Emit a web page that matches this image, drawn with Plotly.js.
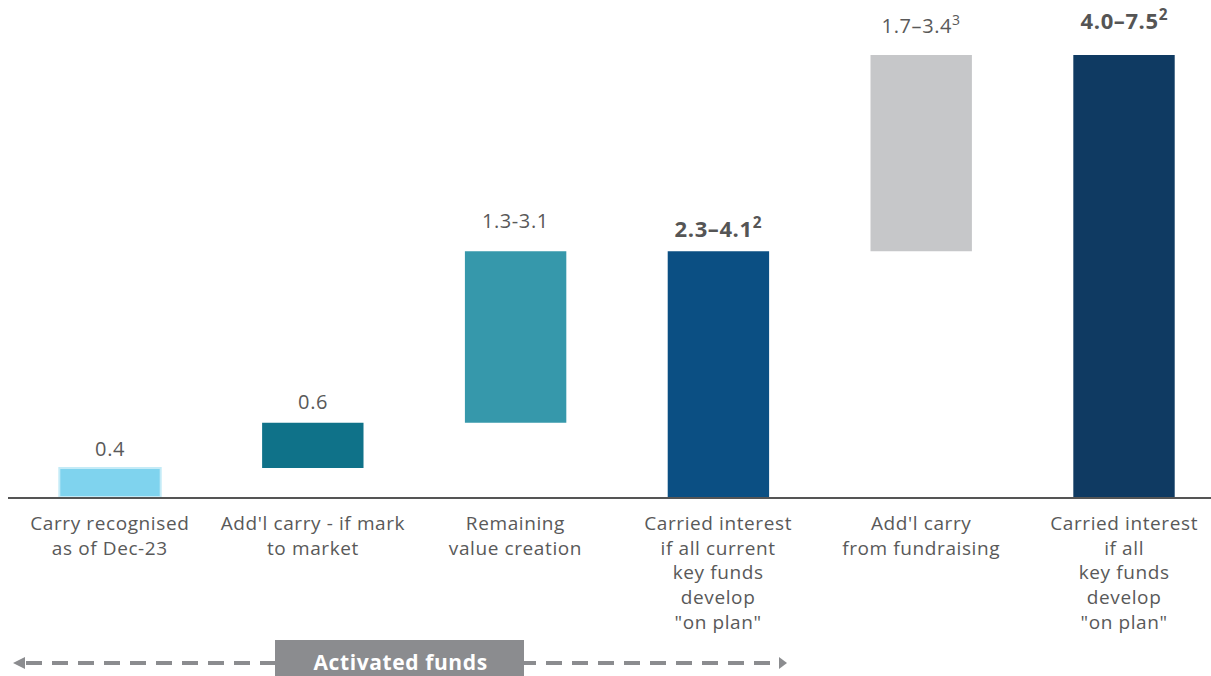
<!DOCTYPE html>
<html>
<head>
<meta charset="utf-8">
<script src="https://cdn.plot.ly/plotly-3.0.1.min.js"></script>
<style>
html,body{margin:0;padding:0;background:#fff;}
#chart{width:1211px;height:676px;}
#chart .annotation-text{letter-spacing:0.6px;}
</style>
</head>
<body>
<div id="chart"></div>
<script>
// ---- data ----
const categories = [
  "Carry recognised<br>as of Dec-23",
  "Add'l carry - if mark<br>to market",
  "Remaining<br>value creation",
  "Carried interest<br>if all current<br>key funds<br>develop<br>\"on plan\"",
  "Add'l carry<br>from fundraising",
  "Carried interest<br>if all<br>key funds<br>develop<br>\"on plan\""
];
const barBase = [0, 0.49, 1.26, 0, 4.17, 0];
const barTop  = [0.49, 1.26, 4.17, 4.17, 7.5, 7.5];
const valueLabels = ["0.4", "0.6", "1.3-3.1", "2.3–4.1<sup>2</sup>", "1.7–3.4<sup>3</sup>", "4.0–7.5<sup>2</sup>"];
const labelBold = [false, false, false, true, false, true];
const barColors = ["#7fd3ee", "#0f7289", "#3698ab", "#0b4f83", "#c6c7c9", "#0f3a62"];
const bracketLabel = "Activated funds";

// ---- styling ----
const FONT = "Open Sans, Lato, sans-serif";
const TXT = "#595959";
const labelShift = [4, 6, 15, 6, 14, 18];
const W = 1211, H = 676, ML = 8, MR = 0, MT = 0, MB = 179;
const PW = W - ML - MR, PH = H - MT - MB;
const px2x = p => (p - ML) / PW;
const py2y = p => (PH + MT - p) / PH;

const idx = categories.map((_, i) => i);

const trace = {
  type: "bar",
  x: idx,
  y: barTop.map((t, i) => t - barBase[i]),
  base: barBase,
  width: 0.5,
  marker: {
    color: barColors,
    line: { color: barColors.map((c, i) => i === 0 ? "#c4ebf7" : c), width: barColors.map((c, i) => i === 0 ? 2 : 0) }
  },
  hoverinfo: "skip"
};

const annotations = [];
idx.forEach(i => {
  annotations.push({
    x: i, y: barTop[i], xref: "x", yref: "y",
    text: labelBold[i] ? "<b>" + valueLabels[i] + "</b>" : valueLabels[i],
    showarrow: false, yanchor: "bottom", xanchor: "center",
    yshift: labelShift[i],
    font: { family: FONT, size: labelBold[i] ? 22 : 20, color: labelBold[i] ? "#555555" : TXT }
  });
  annotations.push({
    x: i, y: 0, xref: "x", yref: "y",
    text: categories[i],
    showarrow: false, yanchor: "top", xanchor: "center", align: "center",
    yshift: -11,
    font: { family: FONT, size: 19, color: TXT }
  });
});

// bracket label
annotations.push({
  x: px2x(400), y: py2y(662), xref: "paper", yref: "paper",
  text: "<b>" + bracketLabel + "</b>", showarrow: false,
  xanchor: "center", yanchor: "middle",
  font: { family: FONT, size: 21, color: "#ffffff" }
});

const GRAY = "#8b8c8f";
const shapes = [
  { type: "line", xref: "paper", yref: "paper", x0: px2x(26), x1: px2x(776), y0: py2y(663), y1: py2y(663),
    line: { color: GRAY, width: 4, dash: "16px,10px" } },
  { type: "path", xref: "paper", yref: "paper",
    path: `M ${px2x(13)} ${py2y(663)} L ${px2x(25)} ${py2y(657)} L ${px2x(25)} ${py2y(669)} Z`,
    fillcolor: GRAY, line: { width: 0 } },
  { type: "path", xref: "paper", yref: "paper",
    path: `M ${px2x(787)} ${py2y(663)} L ${px2x(779)} ${py2y(657)} L ${px2x(779)} ${py2y(669)} Z`,
    fillcolor: GRAY, line: { width: 0 } },
  { type: "rect", xref: "paper", yref: "paper", x0: px2x(275), x1: px2x(524), y0: py2y(678), y1: py2y(640),
    fillcolor: GRAY, line: { width: 0 } }
];

const layout = {
  width: W, height: H,
  margin: { l: ML, r: MR, t: MT, b: MB, pad: 0 },
  paper_bgcolor: "#ffffff", plot_bgcolor: "#ffffff",
  showlegend: false,
  xaxis: {
    range: [-0.503, -0.503 + PW / 202.8],
    showgrid: false, zeroline: false, showticklabels: false, ticks: "",
    showline: true, linecolor: "#555555", linewidth: 2, fixedrange: true
  },
  yaxis: {
    range: [0, PH / 58.93],
    showgrid: false, zeroline: false, showticklabels: false, ticks: "", showline: false, fixedrange: true
  },
  annotations: annotations,
  shapes: shapes
};

Plotly.newPlot("chart", [trace], layout, { displayModeBar: false, staticPlot: true });
</script>
</body>
</html>
